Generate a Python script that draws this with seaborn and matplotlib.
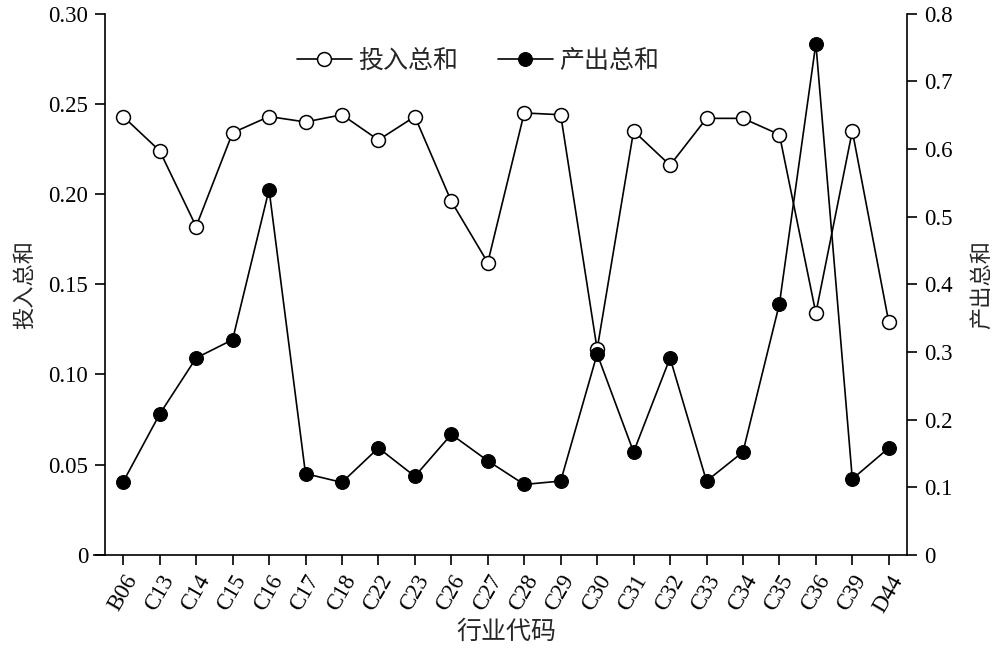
import numpy as np
import pandas as pd
import matplotlib
matplotlib.use('Agg')
import matplotlib.pyplot as plt
import seaborn as sns

# data
codes = ['B06', 'C13', 'C14', 'C15', 'C16', 'C17', 'C18', 'C22', 'C23', 'C26', 'C27',
         'C28', 'C29', 'C30', 'C31', 'C32', 'C33', 'C34', 'C35', 'C36', 'C39', 'D44']
input_sum = [0.243, 0.224, 0.182, 0.234, 0.243, 0.240, 0.244, 0.230, 0.243, 0.196, 0.162,
             0.245, 0.244, 0.114, 0.235, 0.216, 0.242, 0.242, 0.233, 0.134, 0.235, 0.129]
output_sum = [0.108, 0.208, 0.291, 0.318, 0.540, 0.120, 0.107, 0.158, 0.116, 0.178, 0.139,
              0.104, 0.109, 0.297, 0.152, 0.291, 0.109, 0.152, 0.371, 0.756, 0.112, 0.158]

sns.set_style('ticks')
SERIF = ['Liberation Serif', 'Noto Sans CJK SC', 'DejaVu Serif']
CJK = ['Noto Sans CJK SC', 'DejaVu Sans']
plt.rcParams['font.family'] = SERIF
plt.rcParams['axes.unicode_minus'] = False

df = pd.DataFrame({'code': codes, 'x': np.arange(len(codes)),
                   'input': input_sum, 'output': output_sum})

fig = plt.figure(figsize=(10, 6.55), dpi=100, facecolor='white')
ax = fig.add_axes([0.105, 0.153, 0.802, 0.826])
ax2 = ax.twinx()

sns.lineplot(data=df, x='x', y='input', ax=ax, color='black', linewidth=1.2,
             marker='o', markersize=10, markerfacecolor='white',
             markeredgecolor='black', markeredgewidth=1.1, label='投入总和', legend=False)
sns.lineplot(data=df, x='x', y='output', ax=ax2, color='black', linewidth=1.2,
             marker='o', markersize=10, markerfacecolor='black',
             markeredgecolor='black', label='产出总和', legend=False)

ax.set_xlim(-0.5, len(codes) - 0.5)
ax.set_ylim(0, 0.30)
ax2.set_ylim(0, 0.8)
ax.set_yticks(np.arange(0, 0.301, 0.05))
ax.set_yticklabels(['0'] + [f'{v:.2f}' for v in np.arange(0.05, 0.301, 0.05)])
ax2.set_yticks(np.arange(0, 0.81, 0.1))
ax2.set_yticklabels(['0'] + [f'{v:.1f}' for v in np.arange(0.1, 0.81, 0.1)])

ax.set_xticks(df['x'])
ax.set_xticklabels(codes, rotation=60, ha='right', rotation_mode='anchor')

for a in (ax, ax2):
    a.tick_params(axis='both', direction='out', length=7, width=1.2,
                  labelsize=16.5, colors='black', pad=5)
    for s in a.spines.values():
        s.set_linewidth(1.2)
        s.set_color('black')
    a.spines['top'].set_visible(False)
ax.spines['right'].set_visible(False)
ax2.spines['left'].set_visible(False)
ax2.spines['bottom'].set_visible(False)

# bottom axis line runs a little past the left axis, as in the original
ax.plot([-0.015, 0], [0, 0], transform=ax.transAxes, color='black',
        linewidth=1.2, clip_on=False, solid_capstyle='butt')

ax.set_xlabel('行业代码', fontsize=18, family=CJK, labelpad=2)
ax.set_ylabel('投入总和', fontsize=16, family=CJK, labelpad=9)
ax2.set_ylabel('产出总和', fontsize=16, family=CJK, labelpad=13)

h1, l1 = ax.get_legend_handles_labels()
h2, l2 = ax2.get_legend_handles_labels()
ax.legend(h1 + h2, l1 + l2, loc='upper left', bbox_to_anchor=(0.239, 0.937),
          borderaxespad=0, borderpad=0,
          ncol=2, frameon=False, prop={'family': CJK, 'size': 18},
          handlelength=2.2, handletextpad=0.25, columnspacing=1.6)

fig.savefig('out.png', dpi=100, facecolor='white')
